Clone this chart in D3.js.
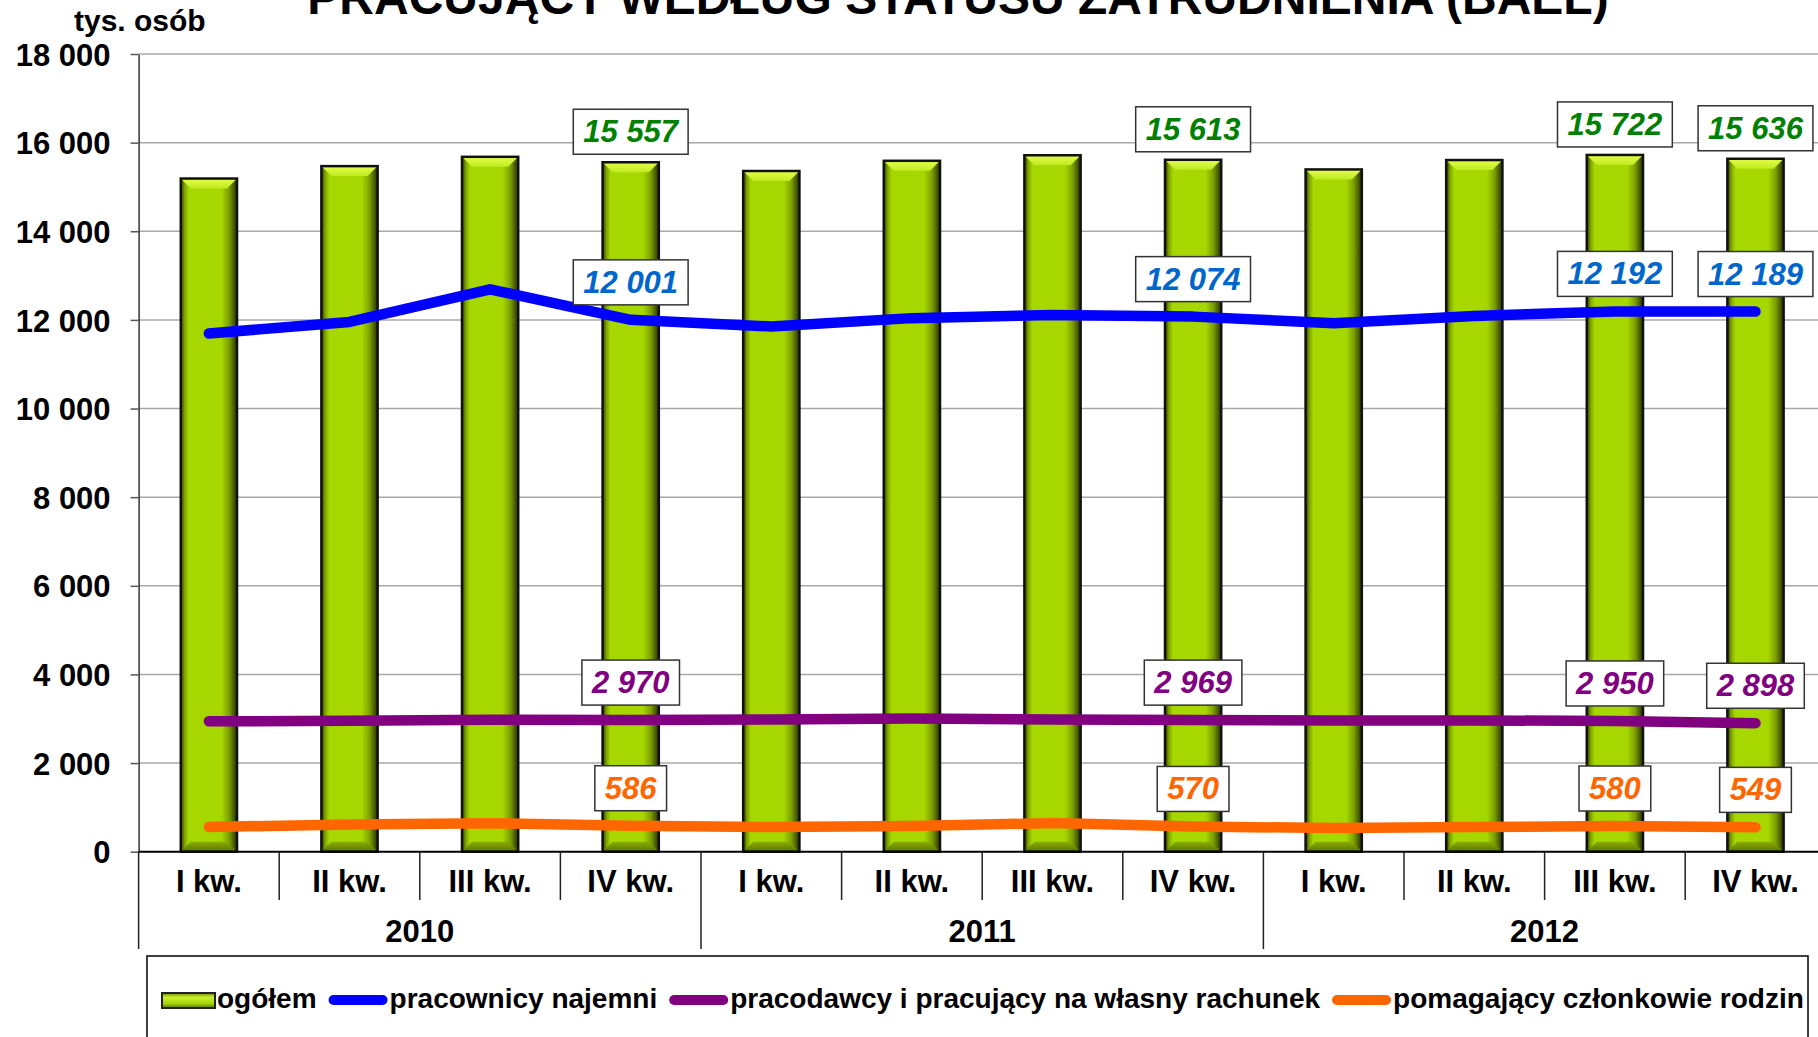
<!DOCTYPE html>
<html><head><meta charset="utf-8">
<script src="https://cdn.jsdelivr.net/npm/d3@7"></script>
<style>
html,body{margin:0;padding:0;background:#fff;}
svg{display:block;font-family:"Liberation Sans",Arial,sans-serif;font-weight:bold;}
</style></head>
<body>
<svg id="chart" width="1818" height="1037"></svg>
<script>
// ---- data ----
const quarters = ["I kw.","II kw.","III kw.","IV kw.","I kw.","II kw.","III kw.","IV kw.","I kw.","II kw.","III kw.","IV kw."];
const years = ["2010","2011","2012"];
const ogolem = [15190,15470,15680,15557, 15360,15590,15715,15613, 15395,15607,15722,15636];
const najemni = [11693,11955,12690,12001, 11851,12040,12110,12074, 11925,12090,12192,12189];
const pracodawcy = [2942,2955,2980,2970, 2985,3005,2985,2969, 2962,2962,2950,2898];
const pomagajacy = [560,612,642,586, 556,578,645,570, 532,556,580,549];
const labeled = [3,7,10,11];
const yTicks = [0,2000,4000,6000,8000,10000,12000,14000,16000,18000];
const title = "PRACUJĄCY WEDŁUG STATUSU ZATRUDNIENIA (BAEL)";
const unit = "tys. osób";
const legendNames = ["ogółem","pracownicy najemni","pracodawcy i pracujący na własny rachunek","pomagający członkowie rodzin"];
const lineSeries = [
  {name: legendNames[1], values: najemni, color: "#0000ff", label: "#0066cc"},
  {name: legendNames[2], values: pracodawcy, color: "#800080", label: "#800080"},
  {name: legendNames[3], values: pomagajacy, color: "#ff6600", label: "#ff6600"}
];

// ---- setup ----
const svg = d3.select("#chart");
const left = 138.6, bandW = 140.6;
const x = d3.scaleBand().domain(d3.range(quarters.length)).range([left, left + bandW*quarters.length]).padding(0);
const y = d3.scaleLinear().domain([0,18000]).range([851.7,54]);
const fmt = d3.formatLocale({thousands:" ", grouping:[3], decimal:",", currency:["",""]}).format(",d");

const defs = svg.append("defs");
const gH = defs.append("linearGradient").attr("id","barH").attr("x1","0").attr("x2","1").attr("y1","0").attr("y2","0");
[[0,"#2f3b00"],[0.07,"#7fa400"],[0.14,"#a6d800"],[0.72,"#a6d800"],[0.86,"#7c9e00"],[1,"#263000"]].forEach(([o,c])=>gH.append("stop").attr("offset",o).attr("stop-color",c));
const gT = defs.append("linearGradient").attr("id","barT").attr("x1","0").attr("x2","0").attr("y1","0").attr("y2","1");
[[0,"#e6ff4a"],[1,"#bdea20"]].forEach(([o,c])=>gT.append("stop").attr("offset",o).attr("stop-color",c));
const gB = defs.append("linearGradient").attr("id","barB").attr("x1","0").attr("x2","0").attr("y1","0").attr("y2","1");
[[0,"#8aae00"],[1,"#5a7400"]].forEach(([o,c])=>gB.append("stop").attr("offset",o).attr("stop-color",c));

// title
svg.append("text").attr("x",958).attr("y",14).attr("text-anchor","middle").attr("font-size",48).attr("fill","#000").text(title);
svg.append("text").attr("x",74).attr("y",31).attr("font-size",30).attr("fill","#000").text(unit);

// gridlines
svg.append("g").selectAll("line").data(yTicks.filter(d=>d>0)).join("line")
  .attr("x1",left).attr("x2",1818).attr("y1",d=>y(d)).attr("y2",d=>y(d))
  .attr("stroke","#a8a8a8").attr("stroke-width",1.5);

// y axis
const yAxis = svg.append("g").attr("transform",`translate(${left},0)`)
  .call(d3.axisLeft(y).tickValues(yTicks).tickSizeInner(8).tickSizeOuter(0).tickPadding(20).tickFormat(fmt));
yAxis.select(".domain").attr("stroke","#333").attr("stroke-width",1.5);
yAxis.selectAll(".tick line").attr("stroke","#555").attr("stroke-width",1.5);
yAxis.selectAll(".tick text").attr("font-size",31).attr("font-family","Liberation Sans, Arial").attr("font-weight","bold").attr("fill","#000").attr("dy","0.36em");

// bars
const bw = x.bandwidth()*0.4, bev = 10;
const bars = svg.append("g").selectAll("g").data(ogolem).join("g");
bars.each(function(v,i){
  const g = d3.select(this);
  const bx = x(i) + (x.bandwidth()-bw)/2, by = y(v), bh = y(0)-y(v);
  g.append("rect").attr("x",bx).attr("y",by).attr("width",bw).attr("height",bh).attr("fill","url(#barH)");
  g.append("path").attr("d",`M${bx},${by}L${bx+bw},${by}L${bx+bw-bev},${by+bev}L${bx+bev},${by+bev}Z`).attr("fill","url(#barT)");
  g.append("path").attr("d",`M${bx},${by+bh}L${bx+bw},${by+bh}L${bx+bw-bev},${by+bh-bev}L${bx+bev},${by+bh-bev}Z`).attr("fill","url(#barB)");
  g.append("rect").attr("x",bx).attr("y",by).attr("width",bw).attr("height",bh).attr("fill","none").attr("stroke","#111").attr("stroke-width",2.5);
});

// x axis
const xg = svg.append("g");
xg.append("line").attr("x1",left).attr("x2",1818).attr("y1",y(0)).attr("y2",y(0)).attr("stroke","#000").attr("stroke-width",2);
d3.range(quarters.length+1).forEach(i=>{
  const xx = left + i*x.bandwidth();
  const isYear = i % 4 === 0;
  xg.append("line").attr("x1",xx).attr("x2",xx).attr("y1",y(0)).attr("y2",isYear?949:900)
    .attr("stroke","#222").attr("stroke-width",1.5);
});
xg.selectAll("text.q").data(quarters).join("text").attr("class","q")
  .attr("x",(d,i)=>x(i)+x.bandwidth()/2).attr("y",892).attr("text-anchor","middle")
  .attr("font-size",31).attr("fill","#000").text(d=>d);
xg.selectAll("text.yr").data(years).join("text").attr("class","yr")
  .attr("x",(d,i)=>left + (i*4+2)*x.bandwidth()).attr("y",942).attr("text-anchor","middle")
  .attr("font-size",31).attr("fill","#000").text(d=>d);

// lines
const line = d3.line().x((d,i)=>x(i)+x.bandwidth()/2).y(d=>y(d));
lineSeries.forEach(s=>{
  svg.append("path").datum(s.values).attr("d",line).attr("fill","none")
    .attr("stroke",s.color).attr("stroke-width",10.5).attr("stroke-linecap","round").attr("stroke-linejoin","round");
});

// labels
function addLabel(cx, bottom, txt, color){
  const g = svg.append("g");
  const t = g.append("text").attr("x",cx).attr("y",bottom-12).attr("text-anchor","middle")
    .attr("font-size",31).attr("font-style","italic").attr("fill",color).text(txt);
  const w = t.node().getComputedTextLength() + 20;
  g.insert("rect","text").attr("x",cx-w/2).attr("y",bottom-45).attr("width",w).attr("height",45)
    .attr("fill","#fff").attr("stroke","#333").attr("stroke-width",1.5);
}
labeled.forEach(i=>{
  const cx = x(i)+x.bandwidth()/2;
  addLabel(cx, y(ogolem[i])-8, fmt(ogolem[i]), "#008000");
  lineSeries.forEach(s=>addLabel(cx, y(s.values[i])-15, fmt(s.values[i]), s.label));
});

// legend
svg.append("rect").attr("x",147).attr("y",956).attr("width",1661).attr("height",200)
  .attr("fill","#fff").attr("stroke","#000").attr("stroke-width",1.5);
let lx = 162;
const ly = 1000;
legendNames.forEach((name,k)=>{
  if(k===0){
    const sw = 53;
    const lg = defs.append("linearGradient").attr("id","legG").attr("x1","0").attr("x2","0").attr("y1","0").attr("y2","1");
    [[0,"#6f8f00"],[0.3,"#c8f030"],[0.7,"#a6d800"],[1,"#5a7400"]].forEach(([o,c])=>lg.append("stop").attr("offset",o).attr("stop-color",c));
    svg.append("rect").attr("x",lx).attr("y",ly-7).attr("width",sw).attr("height",15)
      .attr("fill","url(#legG)").attr("stroke","#222").attr("stroke-width",2);
    lx += sw + 2;
  } else {
    const s = lineSeries[k-1];
    svg.append("line").attr("x1",lx+5).attr("x2",lx+54).attr("y1",ly).attr("y2",ly)
      .attr("stroke",s.color).attr("stroke-width",10).attr("stroke-linecap","round");
    lx += 59 + 2;
  }
  const t = svg.append("text").attr("x",lx).attr("y",ly+8).attr("font-size",28).attr("fill","#000").text(name);
  lx += t.node().getComputedTextLength() + 12;
});
</script>
</body></html>
